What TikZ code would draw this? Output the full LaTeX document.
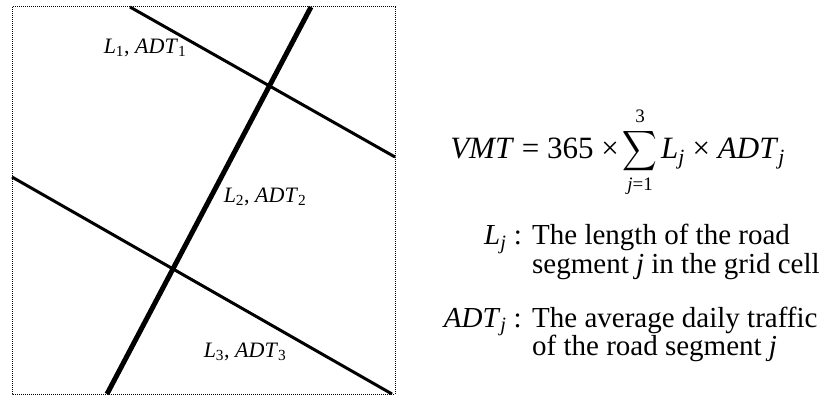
\documentclass[tikz,border=0pt]{standalone}
\usepackage{fontspec}
\setmainfont{Liberation Serif}
\usetikzlibrary{positioning}

\newcommand{\vsub}[2]{\textit{#1}\textsubscript{#2}}

\begin{document}
\begin{tikzpicture}[
  x=1pt, y=-1pt,
  every node/.style={inner sep=0pt},
  cell/.style   = {draw=black, densely dotted, line width=1pt},
  road/.style   = {draw=black, line width=3pt},
  mainrd/.style = {draw=black, line width=5pt},
  seglbl/.style = {font=\fontsize{22}{24}\selectfont},
  eqn/.style    = {font=\fontsize{31}{34}\selectfont},
  lim/.style    = {font=\fontsize{19}{19}\selectfont, anchor=base},
  term/.style   = {font=\fontsize{29}{28}\selectfont, anchor=base east},
  desc/.style   = {font=\fontsize{29}{28}\selectfont, anchor=base west},
]
\useasboundingbox (0,0) rectangle (824,395);

% ── Grid cell ─────────────────────────────────────────────────────────────────
\draw[cell] (12,7) rectangle (395,394);

% ── Road segments ─────────────────────────────────────────────────────────────
\coordinate (r1a) at (130,7);
\coordinate (r1b) at (395,157);
\coordinate (r2a) at (107,394);
\coordinate (r2b) at (311,7);
\coordinate (r3a) at (12,177);
\coordinate (r3b) at (392,394);

\draw[road]   (r1a) -- (r1b);
\draw[road]   (r3a) -- (r3b);
\draw[mainrd] (r2a) -- (r2b);

\node[seglbl] (seg1) at (145,48)  {\vsub{L}{1}, \vsub{ADT}{1}};
\node[seglbl] (seg2) at (265,197) {\vsub{L}{2}, \vsub{ADT}{2}};
\node[seglbl] (seg3) at (245,352) {\vsub{L}{3}, \vsub{ADT}{3}};

% ── Formula ───────────────────────────────────────────────────────────────────
\node[eqn, anchor=base east] (lhs) at (619,159) {\textit{VMT} = 365 ×};
\node (sum) at (640,151) {\scalebox{2.4}[2.8]{$\displaystyle\sum$}};
\node[lim] (top) at (640,123) {3};
\node[lim] (bot) at (640,191) {\textit{j}=1};
\node[eqn, anchor=base west] (rhs) at (661,159) {\vsub{L}{\textit{j}} × \vsub{ADT}{\textit{j}}};

% ── Definitions ───────────────────────────────────────────────────────────────
\node[term] (lj)    at (522,245) {\vsub{L}{\textit{j}}\ :};
\node[desc] (ljd1)  at (532,245) {The length of the road};
\node[desc] (ljd2)  at (532,273) {segment \textit{j} in the grid cell};

\node[term] (adt)   at (522,327) {\vsub{ADT}{\textit{j}}\ :};
\node[desc] (adtd1) at (532,327) {The average daily traffic};
\node[desc] (adtd2) at (532,355) {of the road segment \textit{j}};

\end{tikzpicture}
\end{document}
